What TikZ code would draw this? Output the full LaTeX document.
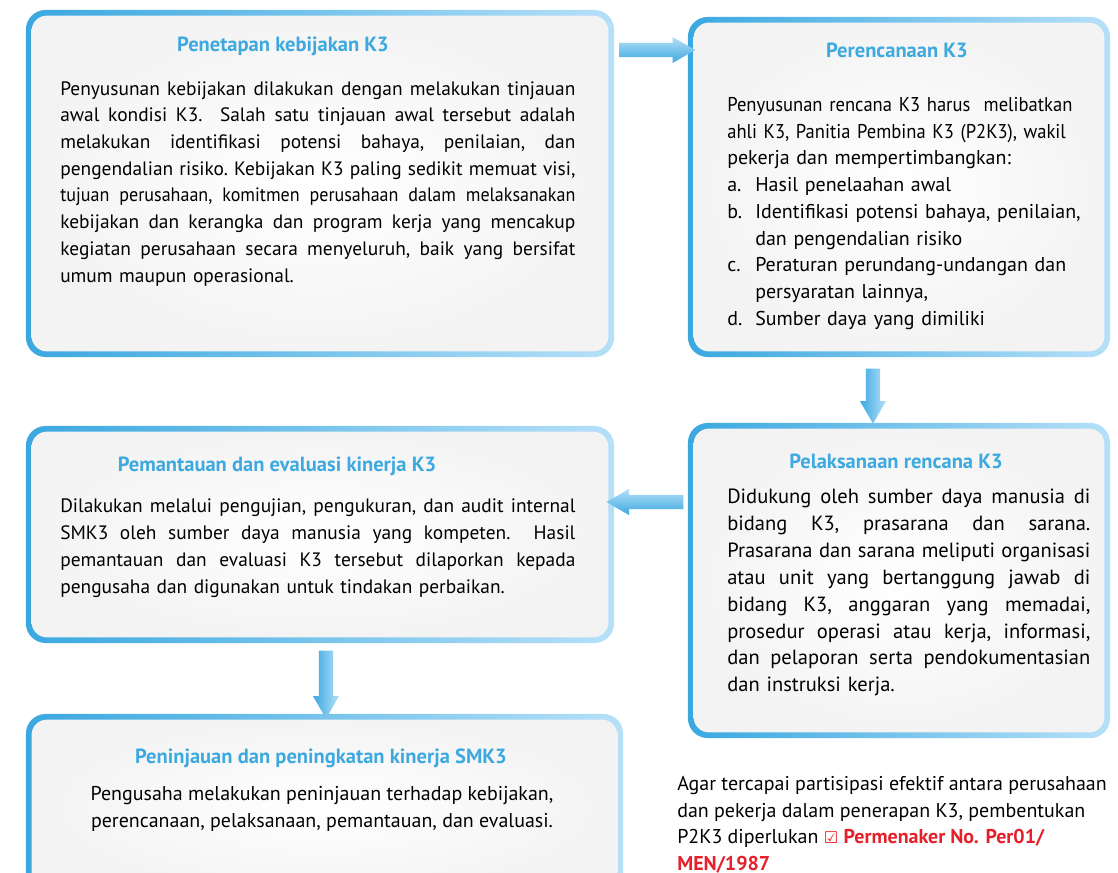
\documentclass[tikz,border=0pt]{standalone}
\usepackage{fontspec}
\setmainfont{PT Sans}
\newfontfamily\condfont[FakeStretch=0.93]{PT Sans}
\newfontfamily\symfont{DejaVu Sans}
\usetikzlibrary{shapes.arrows,calc}

\definecolor{kdark}{HTML}{3AA8E0}
\definecolor{klight}{HTML}{B6E0F8}
\definecolor{kfill}{HTML}{F3F3F3}
\definecolor{ktitle}{HTML}{3DA9DF}
\definecolor{kred}{HTML}{E5202A}

\newcommand{\bodyfont}{\fontsize{14.2}{19}\selectfont}
\newcommand{\widefont}{\fontsize{13.8}{19}\selectfont}
\newcommand{\jline}[2][12.875cm]{\leavevmode\hbox to#1{\frenchspacing\spaceskip=0.26em plus 3em minus 0.08em\relax #2}}
\newcommand{\lbl}[1]{\makebox[0.7cm][l]{#1}}

\begin{document}
\begin{tikzpicture}[
  x=0.025cm, y=-0.025cm,
  box/.style={rectangle, rounded corners=14pt, inner sep=0pt, left color=kdark, right color=klight,
    path picture={\shade[inner color=white, outer color=kfill, rounded corners=11pt]
      ([shift={(4pt,-4pt)}]path picture bounding box.north west) rectangle
      ([shift={(-4pt,4pt)}]path picture bounding box.south east);}},
  boxtitle/.style={anchor=base, inner sep=0pt, text=ktitle, font=\fontsize{14.6}{17}\selectfont\bfseries},
  body/.style={anchor=north west, inner sep=0pt, align=left, font=\bodyfont},
  flow/.style={single arrow, draw=none, inner xsep=0pt, inner ysep=0.169cm,
    single arrow head extend=0.15cm, single arrow tip angle=60},
]
\useasboundingbox (0,0) rectangle (1118,873);

% Boxes
\node[box, minimum width=14.7cm, minimum height=8.675cm] (p1) at (320,183.5) {};
\node[box, minimum width=10.55cm, minimum height=8.5cm] (p2) at (899,187) {};
\node[box, minimum width=10.55cm, minimum height=7.875cm] (p3) at (899,580.5) {};
\node[box, minimum width=14.7cm, minimum height=5.425cm] (p4) at (320,534.5) {};
\node[box, minimum width=14.925cm, minimum height=4.65cm] (p5) at (324.5,807) {};

% Titles
\node[boxtitle] (t1) at (283,52) {Penetapan kebijakan K3};
\node[boxtitle] (t2) at (897,58) {Perencanaan K3};
\node[boxtitle] (t3) at (896,468) {Pelaksanaan rencana K3};
\node[boxtitle] (t4) at (277,471) {Pemantauan dan evaluasi kinerja K3};
\node[boxtitle] (t5) at (321,763) {Peninjauan dan peningkatan kinerja SMK3};

% Texts
\node[body, text width=12.875cm, font=\widefont] (b1) at (60,81) {%
\jline{Penyusunan kebijakan dilakukan dengan melakukan tinjauan}\\
\jline{awal kondisi K3.\ \ Salah satu tinjauan awal tersebut adalah}\\
\jline{melakukan identifikasi potensi bahaya, penilaian, dan}\\
\jline{pengendalian risiko. Kebijakan K3 paling sedikit memuat visi,}\\
\jline{\condfont tujuan perusahaan, komitmen perusahaan dalam melaksanakan}\\
\jline{kebijakan dan kerangka dan program kerja yang mencakup}\\
\jline{kegiatan perusahaan secara menyeluruh, baik yang bersifat}\\
umum maupun operasional.};
\node[body, text width=9.5cm] (b2) at (727,97) {%
{\condfont Penyusunan rencana K3 harus\ \ melibatkan}\\
{\condfont ahli K3, Panitia Pembina K3 (P2K3), wakil}\\
pekerja dan mempertimbangkan:\\
\lbl{a.}Hasil penelaahan awal\\
\lbl{b.}Identifikasi potensi bahaya, penilaian,\\
\lbl{}dan pengendalian risiko\\
\lbl{c.}Peraturan perundang-undangan dan\\
\lbl{}persyaratan lainnya,\\
\lbl{d.}Sumber daya yang dimiliki};
\node[body, text width=9.075cm, font=\fontsize{14.6}{19.1}\selectfont] (b3) at (727,489) {%
\jline[9.075cm]{Didukung oleh sumber daya manusia di}\\
\jline[9.075cm]{bidang K3, prasarana dan sarana.}\\
\jline[9.075cm]{Prasarana dan sarana meliputi organisasi}\\
\jline[9.075cm]{atau unit yang bertanggung jawab di}\\
\jline[9.075cm]{bidang K3, anggaran yang memadai,}\\
\jline[9.075cm]{prosedur operasi atau kerja, informasi,}\\
\jline[9.075cm]{dan pelaporan serta pendokumentasian}\\
dan instruksi kerja.};
\node[body, text width=12.875cm, font=\fontsize{13.8}{19.3}\selectfont] (b4) at (60,498) {%
\jline{Dilakukan melalui pengujian, pengukuran, dan audit internal}\\
\jline{SMK3 oleh sumber daya manusia yang kompeten.\ \ Hasil}\\
\jline{pemantauan dan evaluasi K3 tersebut dilaporkan kepada}\\
pengusaha dan digunakan untuk tindakan perbaikan.};
\node[body, anchor=north, align=center] (b5) at (322,786) {%
Pengusaha melakukan peninjauan terhadap kebijakan,\\
perencanaan, pelaksanaan, pemantauan, dan evaluasi.};

% Note
\node[body] (note) at (677,776) {%
Agar tercapai partisipasi efektif antara perusahaan\\
dan pekerja dalam penerapan K3, pembentukan\\
P2K3 diperlukan {\color{kred}\symfont\fontsize{11.5}{19}\selectfont ☑} {\color{kred}\bfseries Permenaker No. Per01/}\\
{\color{kred}\bfseries MEN/1987}};

% Connections
\path (p1.east |- 0,50) -- node[flow, minimum height=1.9cm, top color=klight, bottom color=kdark] (a12) {} (p2.west |- 0,50);
\path (873,0 |- p2.south) -- node[flow, rotate=-90, minimum height=1.375cm, left color=kdark, right color=klight] (a23) {} (873,0 |- p3.north);
\path (p3.west |- 0,502) -- node[flow, rotate=180, minimum height=1.925cm, top color=klight, bottom color=kdark] (a34) {} (p4.east |- 0,502);
\path (326,0 |- p4.south) -- node[flow, rotate=-90, minimum height=1.7cm, left color=kdark, right color=klight] (a45) {} (326,0 |- p5.north);
\end{tikzpicture}
\end{document}
